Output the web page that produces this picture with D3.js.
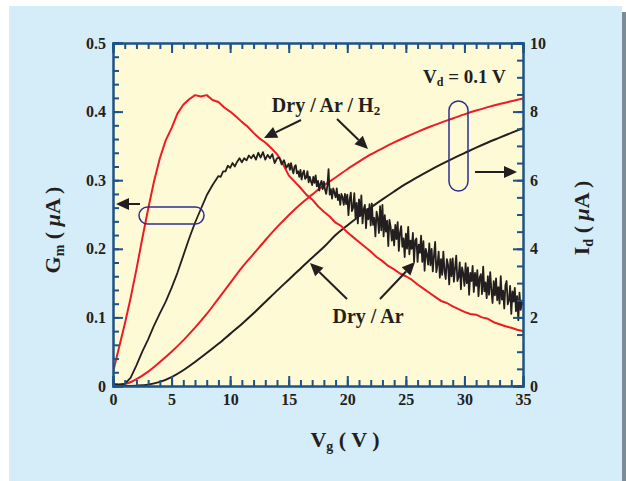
<!DOCTYPE html>
<html><head><meta charset="utf-8">
<script src="https://cdn.jsdelivr.net/npm/d3@7"></script>
<style>body{margin:0;background:#fff}svg{display:block}text{font-family:"Liberation Serif","Times New Roman",serif;font-weight:bold;fill:#231f20}</style>
</head><body>
<script>
// ---- data ----
const vgTicks = [0,5,10,15,20,25,30,35];
const gmTicks = [0,0.1,0.2,0.3,0.4,0.5];
const idTicks = [0,2,4,6,8,10];

// Gm, Dry/Ar/H2 (red), Vg step 0.5 from 0
const gmRedVg = d3.range(0, 35.01, 0.5);
const gmRed = [.020,.055,.090,.128,.170,.215,.258,.298,.332,.358,.376,.397,.410,.418,.424,.422,.424,.417,.414,.406,
  .400,.393,.385,.378,.369,.361,.355,.347,.338,.324,.307,.298,.289,.279,.272,.262,.254,.247,.238,.233,
  .224,.217,.210,.203,.196,.188,.182,.175,.170,.164,.160,.155,.148,.142,.136,.130,.124,.121,.116,.112,
  .108,.105,.104,.100,.098,.093,.090,.087,.085,.082,.080];

// Gm, Dry/Ar (black): 0..8.5 step 0.5, 9.0..14.8 step 0.2, 15.0..35.0 step 0.1
const gmBlackVg = d3.range(0, 18).map(i => i * 0.5)
  .concat(d3.range(0, 30).map(i => +(9 + i * 0.2).toFixed(1)))
  .concat(d3.range(0, 201).map(i => +(15 + i * 0.1).toFixed(1)));
const gmBlack = [.003,.002,.003,.012,.030,.050,.068,.088,.106,.123,.143,.165,.190,.215,.238,.258,.278,.293,
  .306,.305,.313,.313,.321,.318,.325,.320,.327,.332,.326,.332,.329,.336,.332,.337,
  .330,.340,.333,.341,.330,.337,.332,.338,.325,.332,.333,.323,.329,.318,
  .324,.315,.325,.316,.310,.320,.322,.310,.313,.305,
  .315,.301,.310,.314,.302,.304,.313,.297,.305,.298,
  .293,.305,.296,.307,.291,.299,.285,.295,.299,.287,
  .298,.286,.280,.292,.316,.279,.287,.273,.288,.282,
  .275,.288,.271,.279,.264,.280,.275,.264,.280,.265,
  .279,.249,.272,.282,.255,.260,.281,.246,.267,.237,
  .272,.248,.278,.237,.258,.264,.230,.258,.243,.265,
  .234,.266,.235,.245,.218,.254,.245,.223,.262,.227,
  .264,.218,.249,.225,.241,.204,.242,.232,.212,.228,
  .205,.235,.214,.239,.197,.224,.233,.203,.215,.188,
  .222,.200,.232,.192,.212,.200,.223,.181,.212,.215,
  .181,.206,.194,.219,.181,.211,.168,.200,.192,.177,
  .208,.176,.200,.167,.190,.210,.166,.177,.196,.158,
  .185,.162,.196,.168,.156,.185,.177,.148,.185,.160,
  .186,.152,.172,.190,.153,.159,.180,.141,.173,.164,
  .146,.179,.150,.173,.133,.165,.153,.175,.137,.165,
  .146,.169,.131,.158,.163,.134,.174,.138,.151,.128,
  .160,.133,.166,.140,.121,.153,.132,.157,.125,.144,
  .120,.160,.126,.139,.113,.147,.153,.119,.125,.146,
  .105,.138,.123,.143,.109,.131,.096,.136,.111,.122,
  .118];

// Id, Vg step 1 from 0
const idVg = d3.range(0, 36, 1);
const idRed = [0.04,0.06,0.20,0.42,0.70,1.00,1.33,1.70,2.10,2.55,3.00,3.45,3.85,4.25,4.63,4.98,5.30,5.58,5.85,6.08,
  6.32,6.54,6.75,6.93,7.10,7.26,7.41,7.55,7.68,7.80,7.92,8.03,8.13,8.22,8.30,8.38];
const idBlack = [0.00,0.00,0.01,0.04,0.12,0.26,0.46,0.70,0.96,1.23,1.52,1.81,2.12,2.45,2.78,3.10,3.42,3.74,4.05,4.40,
  4.68,4.95,5.20,5.44,5.67,5.89,6.09,6.28,6.46,6.63,6.79,6.95,7.10,7.24,7.38,7.52];

// ---- drawing ----
const W = 626, H = 481;
const svg = d3.select("body").append("svg").attr("width", W).attr("height", H);
svg.append("rect").attr("x", 622).attr("y", 12).attr("width", 4).attr("height", H - 12).attr("fill", "#7b8c96");
svg.append("rect").attr("x", 9).attr("y", 6).attr("width", 613).attr("height", H - 6).attr("fill", "#d5ecf9");

const L = 113, R = 523, T = 43, B = 386;
const x = d3.scaleLinear([0, 35], [L, R]);
const yL = d3.scaleLinear([0, 0.5], [B, T]);
const yR = d3.scaleLinear([0, 10], [B, T]);

svg.append("rect").attr("x", L).attr("y", T).attr("width", R - L).attr("height", B - T).attr("fill", "#fffad6");
svg.append("clipPath").attr("id", "clip").append("rect").attr("x", L).attr("y", T).attr("width", R - L).attr("height", B - T);

const g = svg.append("g").attr("clip-path", "url(#clip)");
const lineL = d3.line().x(d => x(d[0])).y(d => yL(d[1]));
const lineR = d3.line().x(d => x(d[0])).y(d => yR(d[1])).curve(d3.curveMonotoneX);
const RED = "#ec1c24", BLK = "#231f20";

g.append("path").datum(idVg.map((v, i) => [v, idRed[i]])).attr("d", lineR).attr("fill", "none").attr("stroke", RED).attr("stroke-width", 2);
g.append("path").datum(idVg.map((v, i) => [v, idBlack[i]])).attr("d", lineR).attr("fill", "none").attr("stroke", BLK).attr("stroke-width", 2);
g.append("path").datum(gmRedVg.map((v, i) => [v, gmRed[i]])).attr("d", lineL).attr("fill", "none").attr("stroke", RED).attr("stroke-width", 2).attr("stroke-linejoin", "round");
g.append("path").datum(gmBlackVg.map((v, i) => [v, gmBlack[i]])).attr("d", lineL).attr("fill", "none").attr("stroke", BLK).attr("stroke-width", 1.8).attr("stroke-linejoin", "round");

// axes
const AX = "#1d5386";
function styleAxis(sel) {
  sel.select(".domain").attr("stroke", AX).attr("stroke-width", 2);
  sel.selectAll(".tick line").attr("stroke", AX).attr("stroke-width", 2);
  sel.selectAll(".tick text").attr("font-size", 16).attr("fill", "#231f20")
    .style("font-family", '"Liberation Serif",serif').style("font-weight", "bold");
}
const minorX = d3.range(0, 36, 1), minorL = d3.range(0, 0.501, 0.02), minorR = d3.range(0, 10.01, 0.5);
const fmtL = v => v === 0 ? "0" : d3.format(".1f")(v);

svg.append("g").attr("transform", `translate(0,${B})`).call(d3.axisBottom(x).tickValues(minorX).tickSize(-6).tickFormat("")).call(styleAxis);
svg.append("g").attr("transform", `translate(0,${B})`).call(d3.axisBottom(x).tickValues(vgTicks).tickSize(-10).tickPadding(8)).call(styleAxis);
svg.append("g").attr("transform", `translate(0,${T})`).call(d3.axisTop(x).tickValues(minorX).tickSize(-6).tickFormat("")).call(styleAxis);
svg.append("g").attr("transform", `translate(0,${T})`).call(d3.axisTop(x).tickValues(vgTicks).tickSize(-10).tickFormat("")).call(styleAxis);
svg.append("g").attr("transform", `translate(${L},0)`).call(d3.axisLeft(yL).tickValues(minorL).tickSize(-6).tickFormat("")).call(styleAxis);
svg.append("g").attr("transform", `translate(${L},0)`).call(d3.axisLeft(yL).tickValues(gmTicks).tickSize(-10).tickPadding(7).tickFormat(fmtL)).call(styleAxis);
svg.append("g").attr("transform", `translate(${R},0)`).call(d3.axisRight(yR).tickValues(minorR).tickSize(-6).tickFormat("")).call(styleAxis);
svg.append("g").attr("transform", `translate(${R},0)`).call(d3.axisRight(yR).tickValues(idTicks).tickSize(-10).tickPadding(7)).call(styleAxis);

// axis titles
const xt = svg.append("text").attr("x", 345).attr("y", 447).attr("text-anchor", "middle").attr("font-size", 22);
xt.append("tspan").text("V");
xt.append("tspan").attr("font-size", 14).attr("dy", 4).text("g");
xt.append("tspan").attr("dy", -4).text(" ( V )");

const lt = svg.append("text").attr("transform", "translate(60,230) rotate(-90)").attr("text-anchor", "middle").attr("font-size", 22);
lt.append("tspan").text("G");
lt.append("tspan").attr("font-size", 14).attr("dy", 4).text("m");
lt.append("tspan").attr("dy", -4).text(" ( ");
lt.append("tspan").attr("font-style", "italic").text("μ");
lt.append("tspan").text("A )");

const rt = svg.append("text").attr("transform", "translate(589,218) rotate(-90)").attr("text-anchor", "middle").attr("font-size", 22);
rt.append("tspan").text("I");
rt.append("tspan").attr("font-size", 14).attr("dy", 4).text("d");
rt.append("tspan").attr("dy", -4).text(" ( ");
rt.append("tspan").attr("font-style", "italic").text("μ");
rt.append("tspan").text("A )");

// annotations
const vd = svg.append("text").attr("x", 423).attr("y", 83).attr("font-size", 19);
vd.append("tspan").text("V");
vd.append("tspan").attr("font-size", 12).attr("dy", 3).text("d");
vd.append("tspan").attr("dy", -3).text(" = 0.1 V");

svg.append("text").attr("x", 326).attr("y", 112).attr("text-anchor", "middle").attr("font-size", 20)
  .html('Dry / Ar / H<tspan font-size="13" dy="3">2</tspan>');
svg.append("text").attr("x", 368).attr("y", 323).attr("text-anchor", "middle").attr("font-size", 20).text("Dry / Ar");

function arrow(x1, y1, x2, y2) {
  const a = Math.atan2(y2 - y1, x2 - x1), len = 13, w = 6;
  const bx = x2 - len * Math.cos(a), by = y2 - len * Math.sin(a);
  svg.append("line").attr("x1", x1).attr("y1", y1).attr("x2", bx).attr("y2", by).attr("stroke", BLK).attr("stroke-width", 2);
  const p = [[x2, y2], [bx + w * Math.sin(a), by - w * Math.cos(a)], [bx - w * Math.sin(a), by + w * Math.cos(a)]];
  svg.append("path").attr("d", d3.line()(p) + "Z").attr("fill", BLK);
}
arrow(301, 120, 264, 138);
arrow(337, 119, 368, 149);
arrow(347, 299, 310, 263);
arrow(380, 299, 415, 262);
arrow(140, 204, 116, 204);
arrow(475, 172, 517, 172);

svg.append("rect").attr("x", 139).attr("y", 207).attr("width", 65).attr("height", 17).attr("rx", 8.5)
  .attr("fill", "none").attr("stroke", "#2b2f8f").attr("stroke-width", 1.5);
svg.append("rect").attr("x", 449).attr("y", 101).attr("width", 19).attr("height", 90).attr("rx", 9.5)
  .attr("fill", "none").attr("stroke", "#2b2f8f").attr("stroke-width", 1.5);
</script>
</body></html>
